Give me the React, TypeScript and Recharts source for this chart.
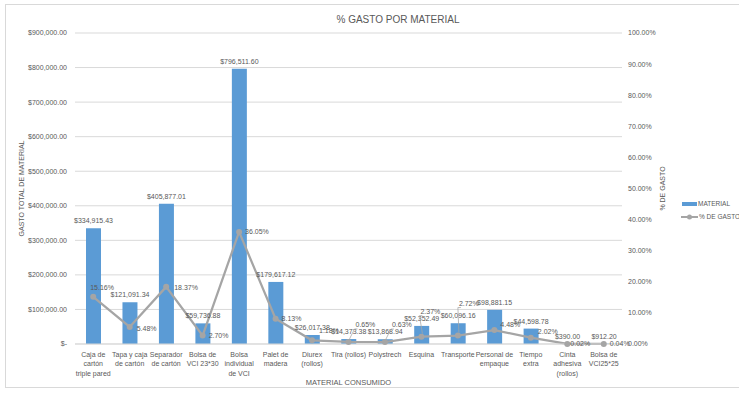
import React from 'react';
import {
  ComposedChart,
  Bar,
  Line,
  XAxis,
  YAxis,
  CartesianGrid,
  Legend,
  LabelList,
  Label,
} from 'recharts';

const materiales = [
  'Caja de cartón triple pared',
  'Tapa y caja de cartón',
  'Separador de cartón',
  'Bolsa de VCI 23*30',
  'Bolsa individual de VCI',
  'Palet de madera',
  'Diurex (rollos)',
  'Tira (rollos)',
  'Polystrech',
  'Esquina',
  'Transporte',
  'Personal de empaque',
  'Tiempo extra',
  'Cinta adhesiva (rollos)',
  'Bolsa de VCI25*25',
];

// how each category name wraps under the axis
const tickLines = [
  ['Caja de', 'cartón', 'triple pared'],
  ['Tapa y caja', 'de cartón'],
  ['Separador', 'de cartón'],
  ['Bolsa de', 'VCI 23*30'],
  ['Bolsa', 'individual', 'de VCI'],
  ['Palet de', 'madera'],
  ['Diurex', '(rollos)'],
  ['Tira (rollos)'],
  ['Polystrech'],
  ['Esquina'],
  ['Transporte'],
  ['Personal de', 'empaque'],
  ['Tiempo', 'extra'],
  ['Cinta', 'adhesiva', '(rollos)'],
  ['Bolsa de', 'VCI25*25'],
];

const gastoTotal = [
  334915.43, 121091.34, 405877.01, 59736.88, 796511.6, 179617.12, 26017.38,
  14373.38, 13868.94, 52352.49, 60096.16, 98881.15, 44598.78, 390.0, 912.2,
];

const porcentajeGasto = [
  15.16, 5.48, 18.37, 2.7, 36.05, 8.13, 1.18, 0.65, 0.63, 2.37, 2.72, 4.48,
  2.02, 0.02, 0.04,
];

const gastoTicks = [0, 100000, 200000, 300000, 400000, 500000, 600000, 700000, 800000, 900000];
const pctTicks = [0, 10, 20, 30, 40, 50, 60, 70, 80, 90, 100];

// hand-placed offsets for crowded % labels (dx, dy)
const pctLabelNudge: [number, number][] = [
  [-8, -9], [2, 2], [3, 1], [1, 0], [1, 0], [1, 0], [2, -10], [2, -17],
  [2, -17], [-6, -25], [-4, -32], [1, -6], [2, -6], [-2, 0], [1, 0],
];

const data = materiales.map((material, i) => ({
  material,
  gasto: gastoTotal[i],
  pct: porcentajeGasto[i],
}));

const FONT = '"Liberation Sans", Arial, sans-serif';
const TEXT = '#595959';
const BLUE = '#5b9bd5';
const GRAY = '#a5a5a5';

const money = (v: number) =>
  v === 0
    ? '$-'
    : '$' + v.toLocaleString('en-US', { minimumFractionDigits: 2, maximumFractionDigits: 2 });

const MaterialTick = (props: any) => {
  const { x, y, payload } = props;
  const lines = tickLines[payload.index] || [payload.value];
  return (
    <text x={x} y={y} textAnchor="middle" fontSize={7} fill={TEXT} fontFamily={FONT}>
      {lines.map((l: string, i: number) => (
        <tspan key={i} x={x} dy={i === 0 ? '0.71em' : 9.5}>
          {l}
        </tspan>
      ))}
    </text>
  );
};

const PctLabel = (props: any) => {
  const { x, y, value, index } = props;
  const [dx, dy] = pctLabelNudge[index] || [0, 0];
  const lx = x + 5 + dx;
  const ly = y + dy;
  const leader = dy < -12;
  return (
    <g>
      {leader && (
        <polyline
          points={`${x + 1},${y - 3} ${lx - 1},${ly + 4} ${lx + 2},${ly + 4}`}
          fill="none"
          stroke={GRAY}
          strokeWidth={0.75}
        />
      )}
      <text
        x={lx}
        y={ly}
        dy="0.35em"
        fontSize={7}
        fill={TEXT}
        fontFamily={FONT}
        textAnchor="start"
      >
        {`${Number(value).toFixed(2)}%`}
      </text>
    </g>
  );
};

const LegendBox = () => (
  <svg width={60} height={30}>
    <rect x={2} y={5} width={15} height={4} fill={BLUE} />
    <text x={18} y={7} dy="0.35em" fontSize={6.5} fill={TEXT} fontFamily={FONT}>
      MATERIAL
    </text>
    <line x1={1} y1={20} x2={18} y2={20} stroke={GRAY} strokeWidth={2} />
    <circle cx={9.5} cy={20} r={2.5} fill={GRAY} />
    <text x={19} y={20} dy="0.35em" fontSize={6.5} fill={TEXT} fontFamily={FONT}>
      % DE GASTO
    </text>
  </svg>
);

export default function App() {
  return (
    <div style={{ position: 'absolute', left: 0, top: 0, width: 739, height: 395, background: '#fff' }}>
      <div
        style={{
          position: 'absolute',
          left: 5,
          top: 4,
          width: 740,
          height: 384,
          border: '1px solid #d9d9d9',
          boxSizing: 'border-box',
        }}
      />
      <div
        style={{
          position: 'absolute',
          left: 0,
          width: 796,
          top: 14,
          textAlign: 'center',
          fontFamily: FONT,
          fontSize: 10,
          color: TEXT,
        }}
      >
        % GASTO POR MATERIAL
      </div>
      <ComposedChart
        width={739}
        height={395}
        data={data}
        margin={{ top: 33, right: 67, bottom: 0, left: 5 }}
        style={{ position: 'absolute', left: 0, top: 0 }}
      >
        <CartesianGrid vertical={false} stroke="#d9d9d9" yAxisId="left" />
        <XAxis
          dataKey="material"
          interval={0}
          height={51}
          tickLine={false}
          axisLine={{ stroke: '#d9d9d9' }}
          tick={<MaterialTick />}
        >
          <Label
            value="MATERIAL CONSUMIDO"
            position="insideBottom"
            offset={10}
            fontSize={7.5}
            fill={TEXT}
            fontFamily={FONT}
          />
        </XAxis>
        <YAxis
          yAxisId="left"
          width={70}
          domain={[0, 900000]}
          ticks={gastoTicks}
          tickFormatter={money}
          axisLine={false}
          tickLine={false}
          tick={{ fontSize: 7, fill: TEXT, fontFamily: FONT }}
        >
          <Label
            value="GASTO TOTAL DE MATERIAL"
            angle={-90}
            position="insideLeft"
            offset={17}
            fontSize={7}
            fill={TEXT}
            fontFamily={FONT}
            style={{ textAnchor: 'middle' }}
          />
        </YAxis>
        <YAxis
          yAxisId="right"
          orientation="right"
          width={50}
          domain={[0, 100]}
          ticks={pctTicks}
          tickFormatter={(v: number) => `${v.toFixed(2)}%`}
          axisLine={false}
          tickLine={false}
          tickSize={4}
          tick={{ fontSize: 7, fill: TEXT, fontFamily: FONT }}
        >
          <Label
            value="% DE GASTO"
            angle={-90}
            position="insideRight"
            offset={9}
            fontSize={7}
            fill={TEXT}
            fontFamily={FONT}
            style={{ textAnchor: 'middle' }}
          />
        </YAxis>
        <Legend
          layout="vertical"
          align="center"
          verticalAlign="middle"
          wrapperStyle={{ left: 680, top: 197, width: 59, height: 30 }}
          content={() => <LegendBox />}
        />
        <Bar
          yAxisId="left"
          dataKey="gasto"
          name="MATERIAL"
          fill={BLUE}
          barSize={15}
          isAnimationActive={false}
        >
          <LabelList
            dataKey="gasto"
            position="top"
            formatter={(v: any) => money(Number(v))}
            fontSize={7}
            fill={TEXT}
            fontFamily={FONT}
          />
        </Bar>
        <Line
          yAxisId="right"
          dataKey="pct"
          name="% DE GASTO"
          stroke={GRAY}
          strokeWidth={2.25}
          dot={{ r: 3, fill: GRAY, stroke: GRAY, strokeWidth: 0 }}
          isAnimationActive={false}
        >
          <LabelList dataKey="pct" content={<PctLabel />} />
        </Line>
      </ComposedChart>
    </div>
  );
}
